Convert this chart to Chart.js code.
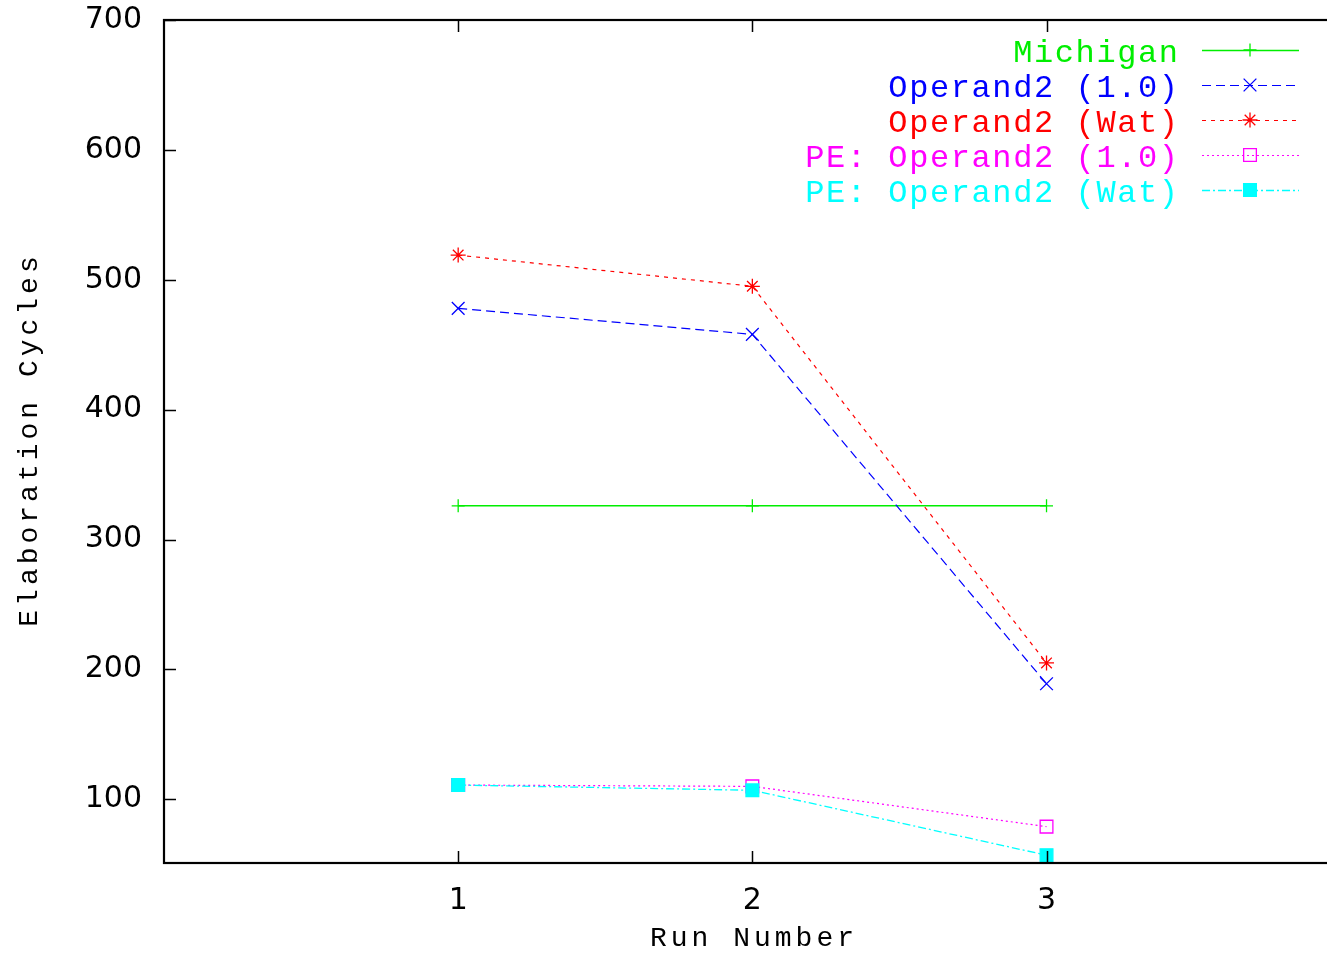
<!DOCTYPE html>
<html>
<head>
<meta charset="utf-8">
<style>
  html, body { margin: 0; padding: 0; background: #fff; overflow: hidden; }
  #wrap { width: 1351px; height: 955px; }
</style>
<script src="https://cdn.jsdelivr.net/npm/chart.js@4/dist/chart.umd.min.js"></script>
</head>
<body>
<div id="wrap"><canvas id="c" width="1351" height="955"></canvas></div>
<script>
// Elaboration cycles per run
const runs = [1, 2, 3];
const michigan = [326, 326, 326];
const operand10 = [478, 458, 189];
const operandWat = [519, 495, 205];
const peOperand10 = [111, 110, 79];
const peOperandWat = [111, 107, 57];

const seriesLabels = ['Michigan', 'Operand2 (1.0)', 'Operand2 (Wat)', 'PE: Operand2 (1.0)', 'PE: Operand2 (Wat)'];
const xTickValues = [1, 2, 3];
const yTickValues = [100, 200, 300, 400, 500, 600, 700];
const xTitle = 'Run Number';
const yTitle = 'Elaboration Cycles';

const MONO = '"Liberation Mono", "Courier New", monospace';
const SANS = '"DejaVu Sans", sans-serif';

function pts(values) {
  return runs.map((r, i) => ({ x: r, y: values[i] }));
}

function series(idx, values, color, dash, style, radius, fill, width) {
  return {
    label: seriesLabels[idx],
    data: pts(values),
    borderColor: color,
    backgroundColor: fill,
    borderWidth: width,
    borderDash: dash,
    pointStyle: style,
    pointRadius: radius,
    pointBorderColor: color,
    pointBackgroundColor: fill,
    pointBorderWidth: 1.3,
    pointHoverRadius: radius,
    tension: 0,
    fill: false,
    order: 5 - idx
  };
}

const datasets = [
  series(0, michigan, '#00ee00', [], 'cross', 6.5, 'rgba(0,0,0,0)', 1.5),
  series(1, operand10, '#0000ff', [9, 5], 'crossRot', 9, 'rgba(0,0,0,0)', 1.2),
  series(2, operandWat, '#ff0000', [4, 5], 'star', 7.5, 'rgba(0,0,0,0)', 1.2),
  series(3, peOperand10, '#ff00ff', [2, 3], 'rect', 9, 'rgba(255,255,255,0)', 1.2),
  series(4, peOperandWat, '#00ffff', [8, 3, 2, 3], 'rect', 9, '#00ffff', 1.3)
];

function fallbackPoint(ctx, o, x, y) {
  const r = o.radius;
  ctx.beginPath();
  if (o.pointStyle === 'rect') {
    const s = Math.SQRT1_2 * r;
    ctx.rect(x - s, y - s, 2 * s, 2 * s);
  } else {
    const d = r * Math.SQRT1_2;
    if (o.pointStyle === 'cross' || o.pointStyle === 'star') {
      ctx.moveTo(x, y - r); ctx.lineTo(x, y + r);
      ctx.moveTo(x - r, y); ctx.lineTo(x + r, y);
    }
    if (o.pointStyle === 'crossRot' || o.pointStyle === 'star') {
      ctx.moveTo(x - d, y - d); ctx.lineTo(x + d, y + d);
      ctx.moveTo(x - d, y + d); ctx.lineTo(x + d, y - d);
    }
  }
  ctx.fill();
  ctx.stroke();
}
const drawPoint = (Chart.helpers && Chart.helpers.drawPoint) ? Chart.helpers.drawPoint : fallbackPoint;

// Border box with inward tick marks on all four sides
const framePlugin = {
  id: 'frame',
  afterDatasetsDraw(chart) {
    const { ctx, chartArea: a, scales } = chart;
    ctx.save();
    ctx.strokeStyle = '#000';
    ctx.setLineDash([]);
    ctx.lineWidth = 1.5;
    const tl = 12;
    ctx.beginPath();
    scales.y.ticks.forEach(t => {
      const py = Math.round(scales.y.getPixelForValue(t.value)) + 0.5;
      ctx.moveTo(a.left, py); ctx.lineTo(a.left + tl, py);
      ctx.moveTo(a.right, py); ctx.lineTo(a.right - tl, py);
    });
    scales.x.ticks.forEach(t => {
      const px = Math.round(scales.x.getPixelForValue(t.value)) + 0.5;
      ctx.moveTo(px, a.bottom); ctx.lineTo(px, a.bottom - tl);
      ctx.moveTo(px, a.top); ctx.lineTo(px, a.top + tl);
    });
    ctx.stroke();
    ctx.lineWidth = 2.2;
    ctx.strokeRect(a.left, a.top, a.right - a.left, a.bottom - a.top);
    ctx.restore();
  }
};

// Key in the upper right: label right-aligned, line sample with its marker
const keyPlugin = {
  id: 'key',
  afterDraw(chart) {
    const ctx = chart.ctx;
    const textRight = 1178, x0 = 1202, x1 = 1299, mx = 1250;
    const spacing = 1.6;
    ctx.save();
    chart.data.datasets.forEach((ds, i) => {
      const rowY = 50 + 35 * i;
      ctx.font = '32px ' + MONO;
      ctx.letterSpacing = spacing + 'px';
      ctx.textAlign = 'right';
      ctx.textBaseline = 'alphabetic';
      ctx.fillStyle = ds.borderColor;
      ctx.fillText(ds.label, textRight + spacing, rowY + 12);
      ctx.letterSpacing = '0px';
      ctx.strokeStyle = ds.borderColor;
      ctx.lineWidth = ds.borderWidth;
      ctx.setLineDash(ds.borderDash);
      ctx.beginPath();
      ctx.moveTo(x0, rowY + 0.5); ctx.lineTo(x1, rowY + 0.5);
      ctx.stroke();
      ctx.setLineDash([]);
      ctx.lineWidth = ds.pointBorderWidth;
      ctx.fillStyle = ds.pointBackgroundColor;
      drawPoint(ctx, { pointStyle: ds.pointStyle, radius: ds.pointRadius, rotation: 0, borderWidth: ds.pointBorderWidth }, mx, rowY);
    });
    ctx.restore();
  }
};

// Axis titles in the wide monospaced face
const titlesPlugin = {
  id: 'titles',
  afterDraw(chart) {
    const { ctx, chartArea: a } = chart;
    const spacing = 4;
    ctx.save();
    ctx.font = '28px ' + MONO;
    ctx.letterSpacing = spacing + 'px';
    ctx.fillStyle = '#000';
    ctx.textAlign = 'center';
    ctx.textBaseline = 'alphabetic';
    ctx.fillText(xTitle, 752 + spacing / 2, 946);
    ctx.translate(37, (a.top + a.bottom) / 2);
    ctx.rotate(-Math.PI / 2);
    ctx.fillText(yTitle, spacing / 2, 0);
    ctx.restore();
  }
};

new Chart(document.getElementById('c'), {
  type: 'line',
  data: { datasets },
  options: {
    responsive: false,
    animation: false,
    devicePixelRatio: 1,
    layout: { padding: { top: 20, right: 5, left: 0, bottom: 0 } },
    plugins: {
      legend: { display: false },
      tooltip: { enabled: false },
      title: { display: false }
    },
    scales: {
      x: {
        type: 'linear',
        min: 0,
        max: 4,
        grid: { display: false, drawTicks: false },
        border: { display: false },
        afterBuildTicks(s) { s.ticks = xTickValues.map(v => ({ value: v })); },
        afterFit(s) { s.height = 92; s.paddingLeft = 0; s.paddingRight = 0; },
        ticks: {
          color: '#000',
          font: { family: SANS, size: 30 },
          padding: 20,
          maxRotation: 0
        }
      },
      y: {
        type: 'linear',
        min: 51,
        max: 700,
        grid: { display: false, drawTicks: false },
        border: { display: false },
        afterBuildTicks(s) { s.ticks = yTickValues.map(v => ({ value: v })); },
        afterFit(s) { s.width = 164; s.paddingTop = 0; s.paddingBottom = 0; },
        ticks: {
          color: '#000',
          font: { family: SANS, size: 30 },
          padding: 22
        }
      }
    }
  },
  plugins: [framePlugin, keyPlugin, titlesPlugin]
});
</script>
</body>
</html>
